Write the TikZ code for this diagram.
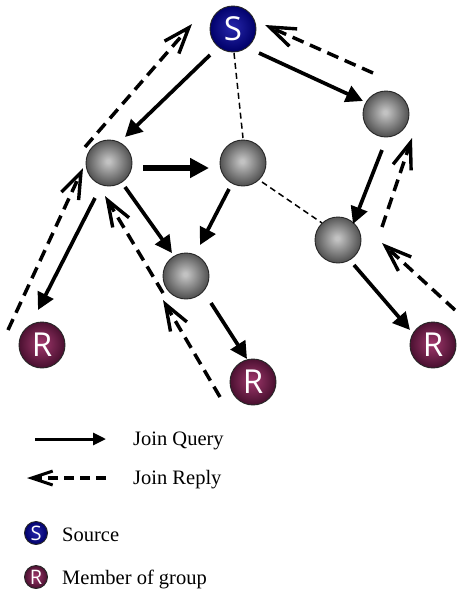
\documentclass[tikz,border=0pt]{standalone}
\usepackage{fontspec}
\setmainfont{Liberation Serif}
\newfontfamily\letterfont{Open Sans}
\usetikzlibrary{arrows.meta,calc}

% sphere shadings for the three kinds of nodes
\definecolor{gcen}{HTML}{C2C2C2}
\definecolor{gedge}{HTML}{525252}
\definecolor{scen}{HTML}{2424A6}
\definecolor{sedge}{HTML}{00006A}
\definecolor{rcen}{HTML}{9A3568}
\definecolor{redge}{HTML}{4A1030}
\pgfdeclareradialshading{graysph}{\pgfpoint{-1bp}{2bp}}{color(0bp)=(gcen); color(2bp)=(gcen); color(25bp)=(gedge); color(50bp)=(gedge)}
\pgfdeclareradialshading{srcsph}{\pgfpoint{-1bp}{2bp}}{color(0bp)=(scen); color(2bp)=(scen); color(25bp)=(sedge); color(50bp)=(sedge)}
\pgfdeclareradialshading{memsph}{\pgfpoint{-1bp}{2bp}}{color(0bp)=(rcen); color(2bp)=(rcen); color(25bp)=(redge); color(50bp)=(redge)}

\tikzset{
  ballbase/.style={circle, minimum size=46pt, inner sep=0pt, draw=black!85, line width=0.9pt},
  grayball/.style={ballbase, shading=graysph},
  srcball/.style={ballbase, shading=srcsph, text=white, font=\letterfont\fontsize{33}{33}\selectfont},
  memball/.style={ballbase, shading=memsph, text=white, font=\letterfont\fontsize{33}{33}\selectfont},
  smallball/.style={minimum size=23pt, font=\letterfont\fontsize{20}{20}\selectfont},
  query/.style={line width=3.7pt, -{Triangle[length=17pt,width=17pt]}},
  bigquery/.style={line width=6pt, -{Triangle[length=19pt,width=19pt]}},
  reply/.style={line width=3.5pt, dash pattern=on 12pt off 7pt, -{Straight Barb[length=26pt,width=19pt,line width=3.4pt]}},
  link/.style={line width=1.5pt, dash pattern=on 6pt off 4pt},
  legendtext/.style={anchor=base west, inner sep=0pt, font=\fontsize{20.5}{20.5}\selectfont}
}

\begin{document}
\begin{tikzpicture}[x=1pt, y=-1pt]
\useasboundingbox (0,0) rectangle (457,592);

% nodes
\node[srcball] (S) at (233,29) {S};
\node[grayball] (A) at (109,163) {};
\node[grayball] (B) at (243,163) {};
\node[grayball] (C) at (386,114) {};
\node[grayball] (D) at (338,240) {};
\node[grayball] (E) at (186,276) {};
\node[memball] (R1) at (42,345) {R};
\node[memball] (R2) at (253,382) {R};
\node[memball] (R3) at (433,345) {R};

% plain links
\draw[link] ($(S)+(1,24)$) -- ($(B)+(0,-25)$);
\draw[link] ($(B)+(19,19)$) -- ($(D)+(-16,-17)$);

% join queries
\draw[query] ($(S)+(-23,26)$) -- ($(A)+(16,-26)$);
\draw[bigquery] ($(A)+(34,5)$) -- ($(B)+(-34,5)$);
\draw[query] ($(S)+(26,24)$) -- ($(C)+(-23,-13)$);
\draw[query] ($(C)+(-4,36)$) -- ($(D)+(15,-16)$);
\draw[query] ($(A)+(16,24)$) -- ($(E)+(-14,-23)$);
\draw[query] ($(B)+(-14,26)$) -- ($(E)+(14,-31)$);
\draw[query] ($(A)+(-14,35)$) -- ($(R1)+(-4,-35)$);
\draw[query] ($(E)+(25,27)$) -- ($(R2)+(-6,-23)$);
\draw[query] ($(D)+(16,25)$) -- ($(R3)+(-23,-15)$);

% join replies
\draw[reply] ($(R1)+(-34,-15)$) -- ($(A)+(-26,5)$);
\draw[reply] ($(A)+(-24,-16)$) -- ($(S)+(-41,-5)$);
\draw[reply] ($(C)+(-13,-41)$) -- ($(S)+(32,-4)$);
\draw[reply] ($(D)+(44,-13)$) -- ($(C)+(26,24)$);
\draw[reply] ($(R3)+(22,-35)$) -- ($(D)+(44,3)$);
\draw[reply] ($(R2)+(-33,15)$) -- ($(E)+(-23,24)$);
\draw[reply] ($(E)+(-23,17)$) -- ($(A)+(-4,33)$);

% legend
\coordinate (q0) at (35,439);
\coordinate (q1) at (106,439);
\draw[line width=3pt, -{Triangle[length=13pt,width=12pt]}] (q0) -- (q1);
\node[legendtext] (tq) at (133,445) {Join Query};

\coordinate (r0) at (106,478);
\coordinate (r1) at (27,478);
\draw[line width=3.4pt, dash pattern=on 10pt off 6pt, -{Straight Barb[length=21pt,width=14pt,line width=3pt]}] (r0) -- (r1);
\node[legendtext] (tr) at (133,484) {Join Reply};

\node[srcball, smallball] (LS) at (36,533) {S};
\node[legendtext] (ts) at (62,541.5) {Source};
\node[memball, smallball] (LR) at (36,577) {R};
\node[legendtext] (tm) at (62,584) {Member of group};
\end{tikzpicture}
\end{document}
